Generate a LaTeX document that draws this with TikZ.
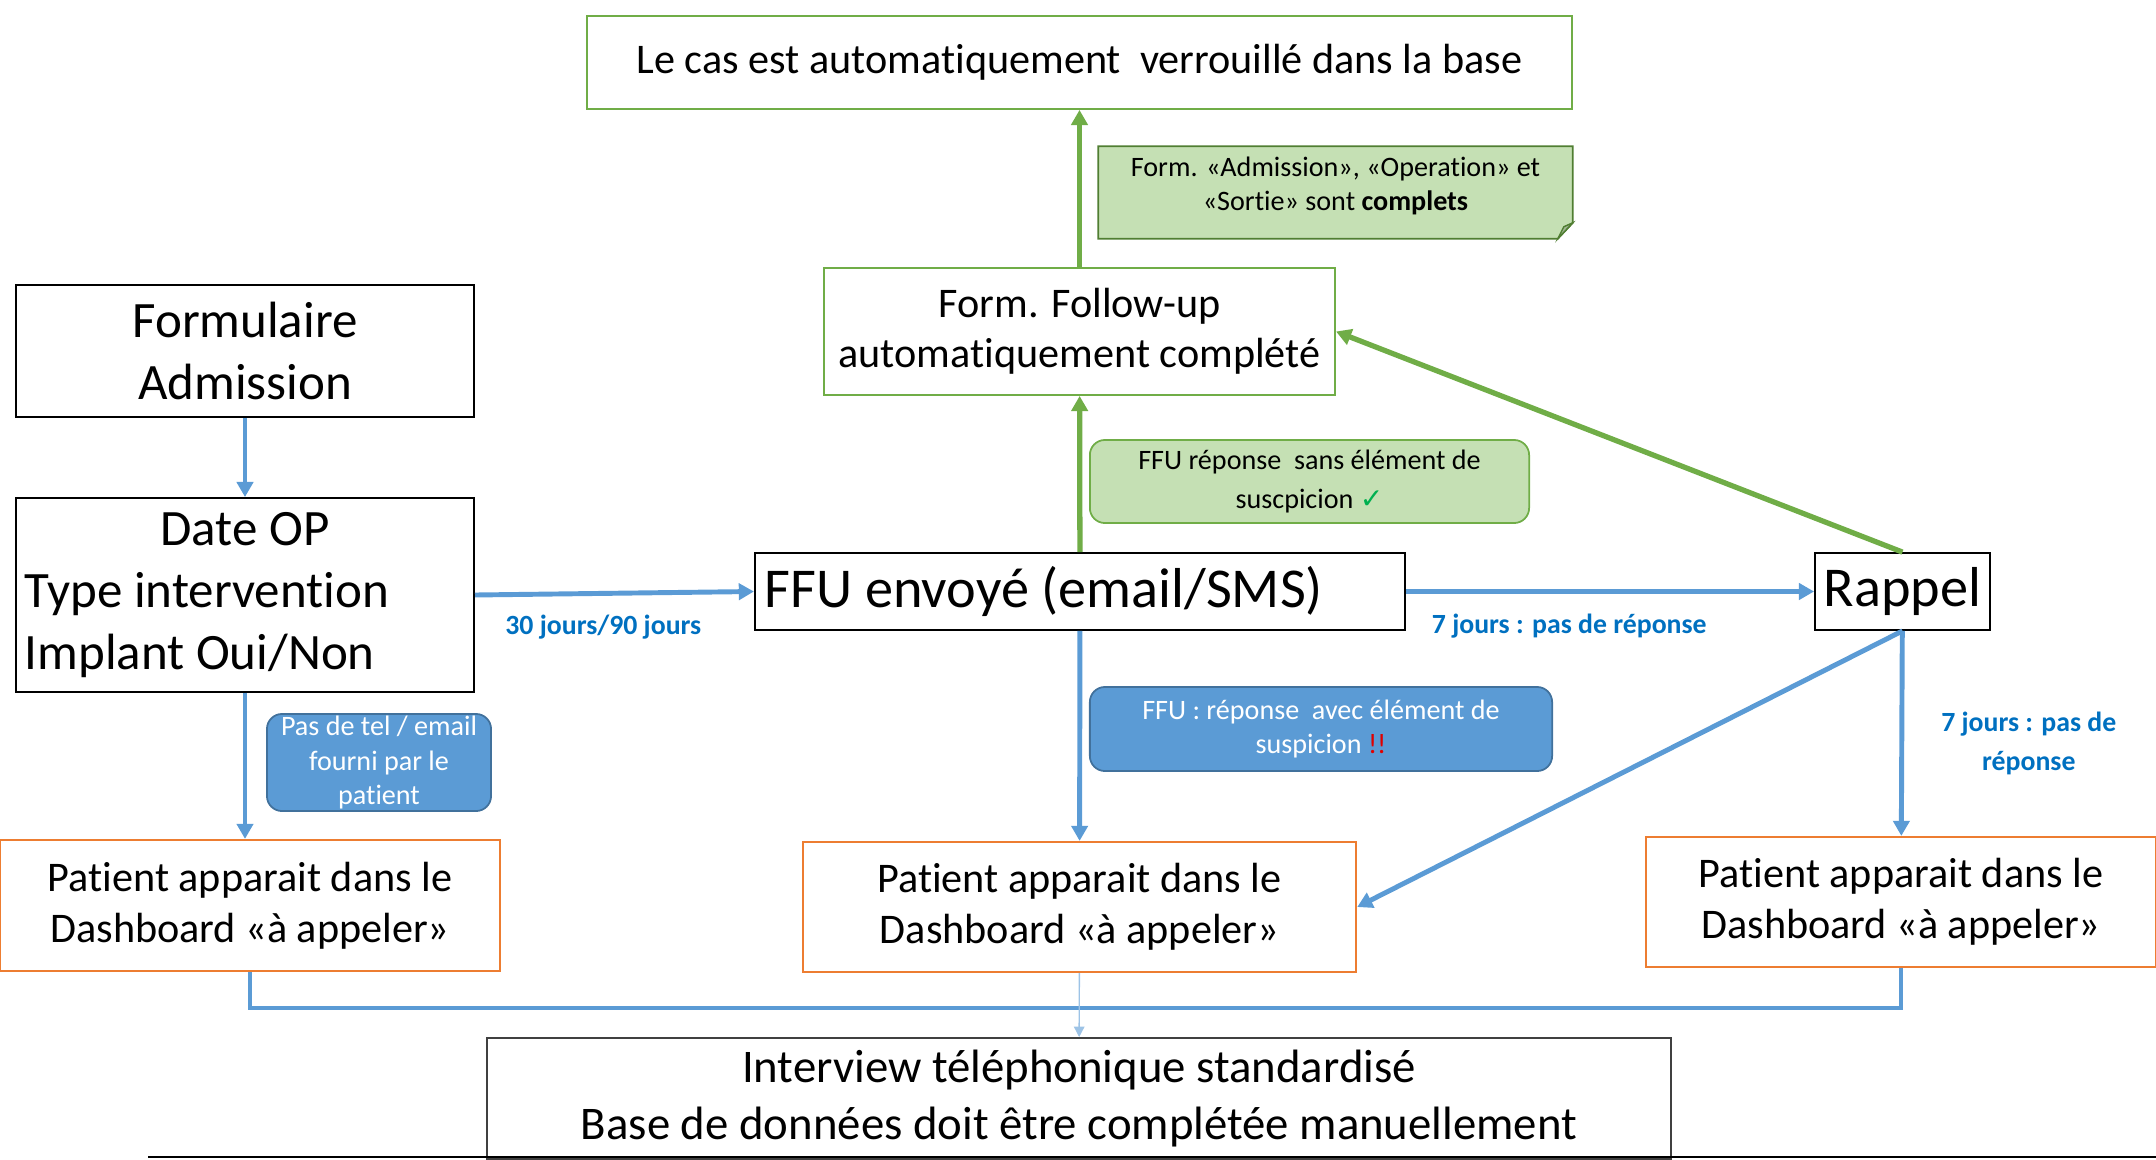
\documentclass[tikz,border=0pt]{standalone}
\usepackage{fontspec}
\setmainfont{Carlito}[Ligatures=NoCommon]
\newfontfamily\symfont{DejaVu Sans}
\usetikzlibrary{arrows.meta,backgrounds}
\definecolor{flowblue}{HTML}{5B9BD5}
\definecolor{flowgreen}{HTML}{70AD47}
\definecolor{lblblue}{HTML}{0070C0}
\definecolor{edgeorange}{HTML}{ED7D31}
\definecolor{boxblue}{HTML}{41719C}
\definecolor{palegreen}{HTML}{C5E0B4}
\definecolor{noteedge}{HTML}{507E32}
\definecolor{notefold}{HTML}{9EB591}
\definecolor{checkgreen}{HTML}{00B050}
\definecolor{thinblue}{HTML}{9DC3E6}

\begin{document}
\begin{tikzpicture}[x=0.01cm, y=-0.01cm,
    plain/.style={draw=black, line width=0.5pt, inner sep=0pt, align=center},
    greenbox/.style={draw=flowgreen, line width=0.5pt, inner sep=0pt, align=center},
    callbox/.style={draw=edgeorange, line width=0.6pt, inner sep=0pt, align=center,
        font=\fontsize{12}{14.5}\selectfont},
    bluetag/.style={draw=boxblue, fill=flowblue, line width=0.5pt, rounded corners=0.15cm,
        inner sep=0pt, align=center, text=white},
    greentag/.style={draw=flowgreen, fill=palegreen, line width=0.5pt, rounded corners=0.15cm,
        inner sep=0pt, align=center},
    bigtext/.style={font=\fontsize{14.5}{17.7}\selectfont},
    lbl/.style={text=lblblue, font=\fontsize{7.9}{11}\bfseries, inner sep=0pt, align=center},
    flow/.style={draw=flowblue, line width=1.4pt, -{Triangle[length=4.3pt,width=4.6pt]}},
    okflow/.style={draw=flowgreen, line width=1.5pt, -{Triangle[length=4.3pt,width=4.6pt]}},
    link/.style={draw=flowblue, line width=1.4pt}]
    \useasboundingbox (0,0) rectangle (2156,1160);

    \node[greenbox, minimum width=9.85cm, minimum height=0.93cm,
        font=\fontsize{12}{14.5}\selectfont] (verrou) at (1079.5,62.5)
        {Le cas est automatiquement\ \ verrouillé dans la base};
    \node[inner sep=0pt, align=center, minimum width=4.73cm, minimum height=0.91cm,
        text depth=4.8pt, font=\fontsize{8}{9.7}\selectfont] (note) at (1335.5,192.5)
        {Form. «Admission», «Operation» et\\«Sortie» sont \textbf{complets}};
    \begin{scope}[on background layer]
        \draw[fill=palegreen, draw=noteedge, line width=0.5pt] (note.north west) -- (note.north east)
            -- ([yshift=0.16cm]note.south east) -- ([xshift=-0.15cm]note.south east)
            -- (note.south west) -- cycle;
        \draw[fill=notefold, draw=noteedge, line width=0.4pt] ([yshift=0.16cm]note.south east)
            -- ([xshift=-0.09cm,yshift=0.12cm]note.south east) -- ([xshift=-0.15cm]note.south east) -- cycle;
    \end{scope}
    \node[greenbox, minimum width=5.11cm, minimum height=1.27cm,
        font=\fontsize{12}{14.2}\selectfont] (suivi) at (1079.5,331.5)
        {Form. Follow-up\\automatiquement complété};
    \node[greentag, minimum width=4.39cm, minimum height=0.83cm,
        font=\fontsize{8}{11}\selectfont] (sansalerte) at (1309.5,481.5)
        {FFU réponse\ \ sans élément de\\suscpicion {\color{checkgreen}\symfont ✓}};

    \node[plain, bigtext, minimum width=4.58cm, minimum height=1.32cm] (admission) at (245,351)
        {Formulaire\\Admission};
    \node[plain, bigtext, minimum width=4.58cm, minimum height=1.94cm,
        text width=4.4cm, align=flush left] (dateop) at (245,595)
        {\makebox[4.4cm]{Date OP}\\Type intervention\\Implant Oui/Non};
    \node[plain, font=\fontsize{16}{19}\selectfont, minimum width=6.5cm, minimum height=0.77cm,
        text width=6.3cm, align=flush left] (ffu) at (1080,591.5)
        {FFU envoyé (email/SMS)};
    \node[plain, font=\fontsize{16}{19}\selectfont, minimum width=1.75cm, minimum height=0.77cm] (rappel) at (1902.5,591.5)
        {Rappel};

    \node[bluetag, minimum width=2.24cm, minimum height=0.97cm,
        font=\fontsize{8}{9.7}\selectfont] (sanscontact) at (379,762.5)
        {Pas de tel / email\\fourni par le\\patient};
    \node[bluetag, minimum width=4.62cm, minimum height=0.84cm,
        font=\fontsize{8}{9.4}\selectfont] (alerte) at (1321,729)
        {FFU : réponse\ \ avec élément de\\suspicion {\color[HTML]{E00000}!!}};

    \node[callbox, minimum width=5.0cm, minimum height=1.31cm] (appelG) at (250,905.5)
        {Patient apparait dans le\\Dashboard «à appeler»};
    \node[callbox, minimum width=5.53cm, minimum height=1.30cm] (appelM) at (1079.5,907)
        {Patient apparait dans le\\Dashboard «à appeler»};
    \node[callbox, minimum width=5.10cm, minimum height=1.30cm] (appelD) at (1901,902)
        {Patient apparait dans le\\Dashboard «à appeler»};

    \node[plain, draw=black!75, minimum width=11.84cm, minimum height=1.21cm,
        font=\fontsize{13.3}{16.4}\selectfont] (interview) at (1079,1098.5)
        {Interview téléphonique standardisé\\Base de données doit être complétée manuellement};
    \coordinate (jonction) at (1079.5,1008);

    \draw[flow] (admission) -- (dateop);
    \draw[flow] (dateop.south) -- (dateop.south |- appelG.north);
    \draw[flow] (dateop.east) -- node[lbl, below=0.19cm, pos=0.46] {30 jours/90 jours} (ffu.west);
    \draw[okflow] (ffu) -- (suivi);
    \draw[okflow] (suivi) -- (verrou);
    \draw[okflow] (rappel.north) -- (suivi.east);
    \draw[flow] (ffu) -- node[lbl, below=0.2cm, pos=0.4] {7 jours : pas de réponse} (rappel);
    \draw[flow] (ffu) -- (appelM);
    \draw[flow] (rappel.south) -- (appelM.east);
    \draw[flow] (rappel) -- node[lbl, right=0.37cm, pos=0.55] {7 jours : pas de\\réponse} (appelD);
    \draw[link] (appelG.south) |- (jonction) -| (appelD.south);
    \draw[draw=thinblue, line width=0.4pt, -{Triangle[length=3pt,width=3pt]}] (appelM) -- (interview);
    \draw[black, line width=0.6pt] (148,1157) -- (2156,1157);
\end{tikzpicture}
\end{document}
